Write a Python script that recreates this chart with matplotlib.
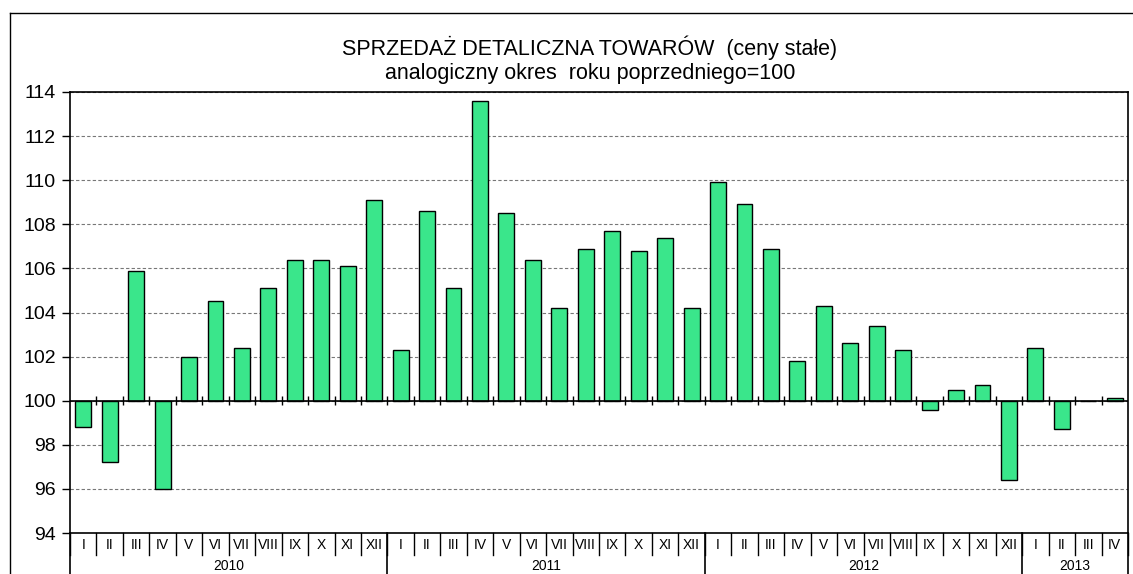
import numpy as np
import matplotlib.pyplot as plt
from matplotlib.lines import Line2D

plt.rcParams['font.family'] = ['Liberation Sans', 'DejaVu Sans']

months = ['I', 'II', 'III', 'IV', 'V', 'VI', 'VII', 'VIII', 'IX', 'X', 'XI', 'XII']
years = ['2010', '2011', '2012', '2013']
months_per_year = [12, 12, 12, 4]

v2010 = [98.8, 97.2, 105.9, 96.0, 102.0, 104.5, 102.4, 105.1, 106.4, 106.4, 106.1, 109.1]
v2011 = [102.3, 108.6, 105.1, 113.6, 108.5, 106.4, 104.2, 106.9, 107.7, 106.8, 107.4, 104.2]
v2012 = [109.9, 108.9, 106.9, 101.8, 104.3, 102.6, 103.4, 102.3, 99.6, 100.5, 100.7, 96.4]
v2013 = [102.4, 98.7, 100.0, 100.1]

values = np.array(v2010 + v2011 + v2012 + v2013)
labels = [m for n in months_per_year for m in months[:n]]
x = np.arange(len(values))

W, H = 1133, 574
fig = plt.figure(figsize=(W / 100, H / 100), dpi=100)
ax = fig.add_axes([70 / W, 1 - 533 / H, (1128 - 70) / W, (533 - 92) / H])

ax.bar(x, values - 100, bottom=100, width=0.6, color='#3AE68B',
       edgecolor='black', linewidth=1.0, zorder=3)

ax.set_xlim(-0.5, len(values) - 0.5)
ax.set_ylim(94, 114)
ax.set_yticks(np.arange(94, 115, 2))
ax.tick_params(axis='y', labelsize=14, length=6, width=1, direction='out', pad=4)
ax.set_xticks([])
ax.grid(axis='y', color='#777777', linestyle=(0, (3, 2)), linewidth=0.8, zorder=0)
for s in ax.spines.values():
    s.set_linewidth(1.2)

# baseline at 100 with crossing ticks
ax.axhline(100, color='black', linewidth=1.2, zorder=4)
bounds = np.arange(len(values) + 1) - 0.5
ax.vlines(bounds[1:-1], 99.8, 100.2, color='black', linewidth=1, zorder=4)

# category boxes below the axis
tr = ax.get_xaxis_transform()
for i, lab in enumerate(labels):
    ax.text(x[i], -0.028, lab, transform=tr, ha='center', va='center', fontsize=10)
for b in bounds:
    ax.plot([b, b], [0, -0.05], transform=tr, color='black', linewidth=1, clip_on=False)

start = 0
year_edges = [-0.5]
for yr, n in zip(years, months_per_year):
    ax.text(start + (n - 1) / 2, -0.075, yr, transform=tr, ha='center', va='center', fontsize=10)
    start += n
    year_edges.append(start - 0.5)
for b in year_edges:
    ax.plot([b, b], [0, -0.1], transform=tr, color='black', linewidth=1.2, clip_on=False)

fig.text(590 / W, 1 - 48 / H, 'SPRZEDAŻ DETALICZNA TOWARÓW  (ceny stałe)',
         ha='center', va='center', fontsize=15.5)
fig.text(590 / W, 1 - 73 / H, 'analogiczny okres  roku poprzedniego=100',
         ha='center', va='center', fontsize=15.5)

# outer frame
fig.add_artist(Line2D([10 / W, 1.0], [1 - 13 / H, 1 - 13 / H], color='black', linewidth=1))
fig.add_artist(Line2D([10 / W, 10 / W], [0, 1 - 13 / H], color='black', linewidth=1))

fig.savefig('out.png', dpi=100)
